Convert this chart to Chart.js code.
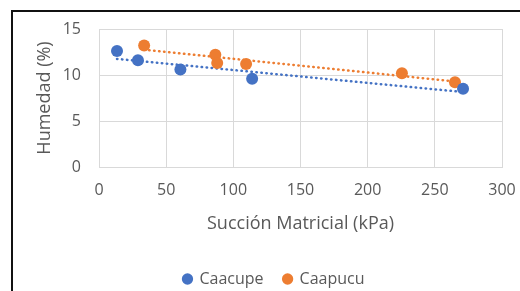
<!DOCTYPE html>
<html>
<head>
<meta charset="utf-8">
<script src="https://cdn.jsdelivr.net/npm/chart.js@4"></script>
<style>
  html, body { margin: 0; padding: 0; background: #fff; }
  #wrap { position: relative; width: 520px; height: 291px; overflow: hidden; }
  #frame { position: absolute; left: 11px; top: 10px; width: 600px; height: 400px;
           border-left: 2px solid #111; border-top: 2px solid #111; }
  #c { position: absolute; left: 0; top: 0; }
</style>
</head>
<body>
<div id="wrap">
  <div id="frame"></div>
  <canvas id="c" width="520" height="291"></canvas>
</div>
<script>
// datos
var caacupeX = [13.4, 29, 60.6, 114, 271];
var caacupeY = [12.6, 11.6, 10.6, 9.6, 8.5];
var caapucuX = [33.6, 86.6, 88, 109.5, 225.5, 265];
var caapucuY = [13.2, 12.2, 11.3, 11.2, 10.2, 9.2];

// lineas de tendencia (extremos)
var trendCaacupeX = [13.4, 271];
var trendCaacupeY = [11.75, 8.15];
var trendCaapucuX = [33.6, 265];
var trendCaapucuY = [12.75, 9.3];

var xTicks = [0, 50, 100, 150, 200, 250, 300];
var yTicks = [0, 5, 10, 15];

var azul = '#4472C4';
var naranja = '#ED7D31';
var gris = '#595959';
var fuente = "'Open Sans', sans-serif";

function puntos(xs, ys) {
    return xs.map(function (x, i) { return { x: x, y: ys[i] }; });
}

function tendencia(xs, ys, color) {
    return {
        type: 'line',
        label: 'trend',
        data: puntos(xs, ys),
        borderColor: color,
        borderWidth: 2.5,
        borderDash: [0.5, 4.5],
        borderCapStyle: 'round',
        pointRadius: 0,
        fill: false
    };
}

// mueve la leyenda un poco a la derecha (como en el original)
var moverLeyenda = {
    id: 'moverLeyenda',
    afterLayout: function (c) {
        c.legend.left += 8;
        c.legend.right += 8;
    }
};

var ctx = document.getElementById('c').getContext('2d');
var chart = new Chart(ctx, {
    type: 'scatter',
    data: {
        datasets: [{
            label: 'Caacupe',
            data: puntos(caacupeX, caacupeY),
            backgroundColor: azul,
            borderColor: azul,
            borderWidth: 0,
            pointRadius: 6,
            pointHoverRadius: 6
        }, {
            label: 'Caapucu',
            data: puntos(caapucuX, caapucuY),
            backgroundColor: naranja,
            borderColor: naranja,
            borderWidth: 0,
            pointRadius: 6,
            pointHoverRadius: 6
        },
        tendencia(trendCaacupeX, trendCaacupeY, azul),
        tendencia(trendCaapucuX, trendCaapucuY, naranja)]
    },
    plugins: [moverLeyenda],
    options: {
        responsive: false,
        animation: false,
        layout: { padding: { left: 30, right: 18, top: 29, bottom: -6 } },
        plugins: {
            tooltip: { enabled: false },
            legend: {
                position: 'bottom',
                labels: {
                    usePointStyle: true,
                    pointStyle: 'circle',
                    boxWidth: 8,
                    boxHeight: 8,
                    padding: 20,
                    color: gris,
                    font: { family: fuente, size: 16 },
                    filter: function (item) { return item.text !== 'trend'; }
                }
            }
        },
        scales: {
            x: {
                type: 'linear',
                min: 0,
                max: 300,
                afterBuildTicks: function (s) { s.ticks = xTicks.map(function (v) { return { value: v }; }); },
                afterFit: function (s) { s.height = 84; s.paddingLeft = 0; s.paddingRight = 0; },
                grid: { color: '#D9D9D9', drawTicks: false },
                border: { color: '#D9D9D9' },
                ticks: { color: gris, padding: 14, font: { family: fuente, size: 16 } },
                title: {
                    display: true,
                    text: 'Succión Matricial (kPa)',
                    color: gris,
                    padding: { top: 4, bottom: 16 },
                    font: { family: fuente, size: 18 }
                }
            },
            y: {
                min: 0,
                max: 15,
                afterBuildTicks: function (s) { s.ticks = yTicks.map(function (v) { return { value: v }; }); },
                afterFit: function (s) { s.width = 69; },
                grid: { color: '#D9D9D9', drawTicks: false },
                border: { color: '#D9D9D9' },
                ticks: { color: gris, padding: 18, font: { family: fuente, size: 16 } },
                title: {
                    display: true,
                    text: 'Humedad (%)',
                    color: gris,
                    padding: { top: 4, bottom: 4 },
                    font: { family: fuente, size: 18 }
                }
            }
        }
    }
});
</script>
</body>
</html>
